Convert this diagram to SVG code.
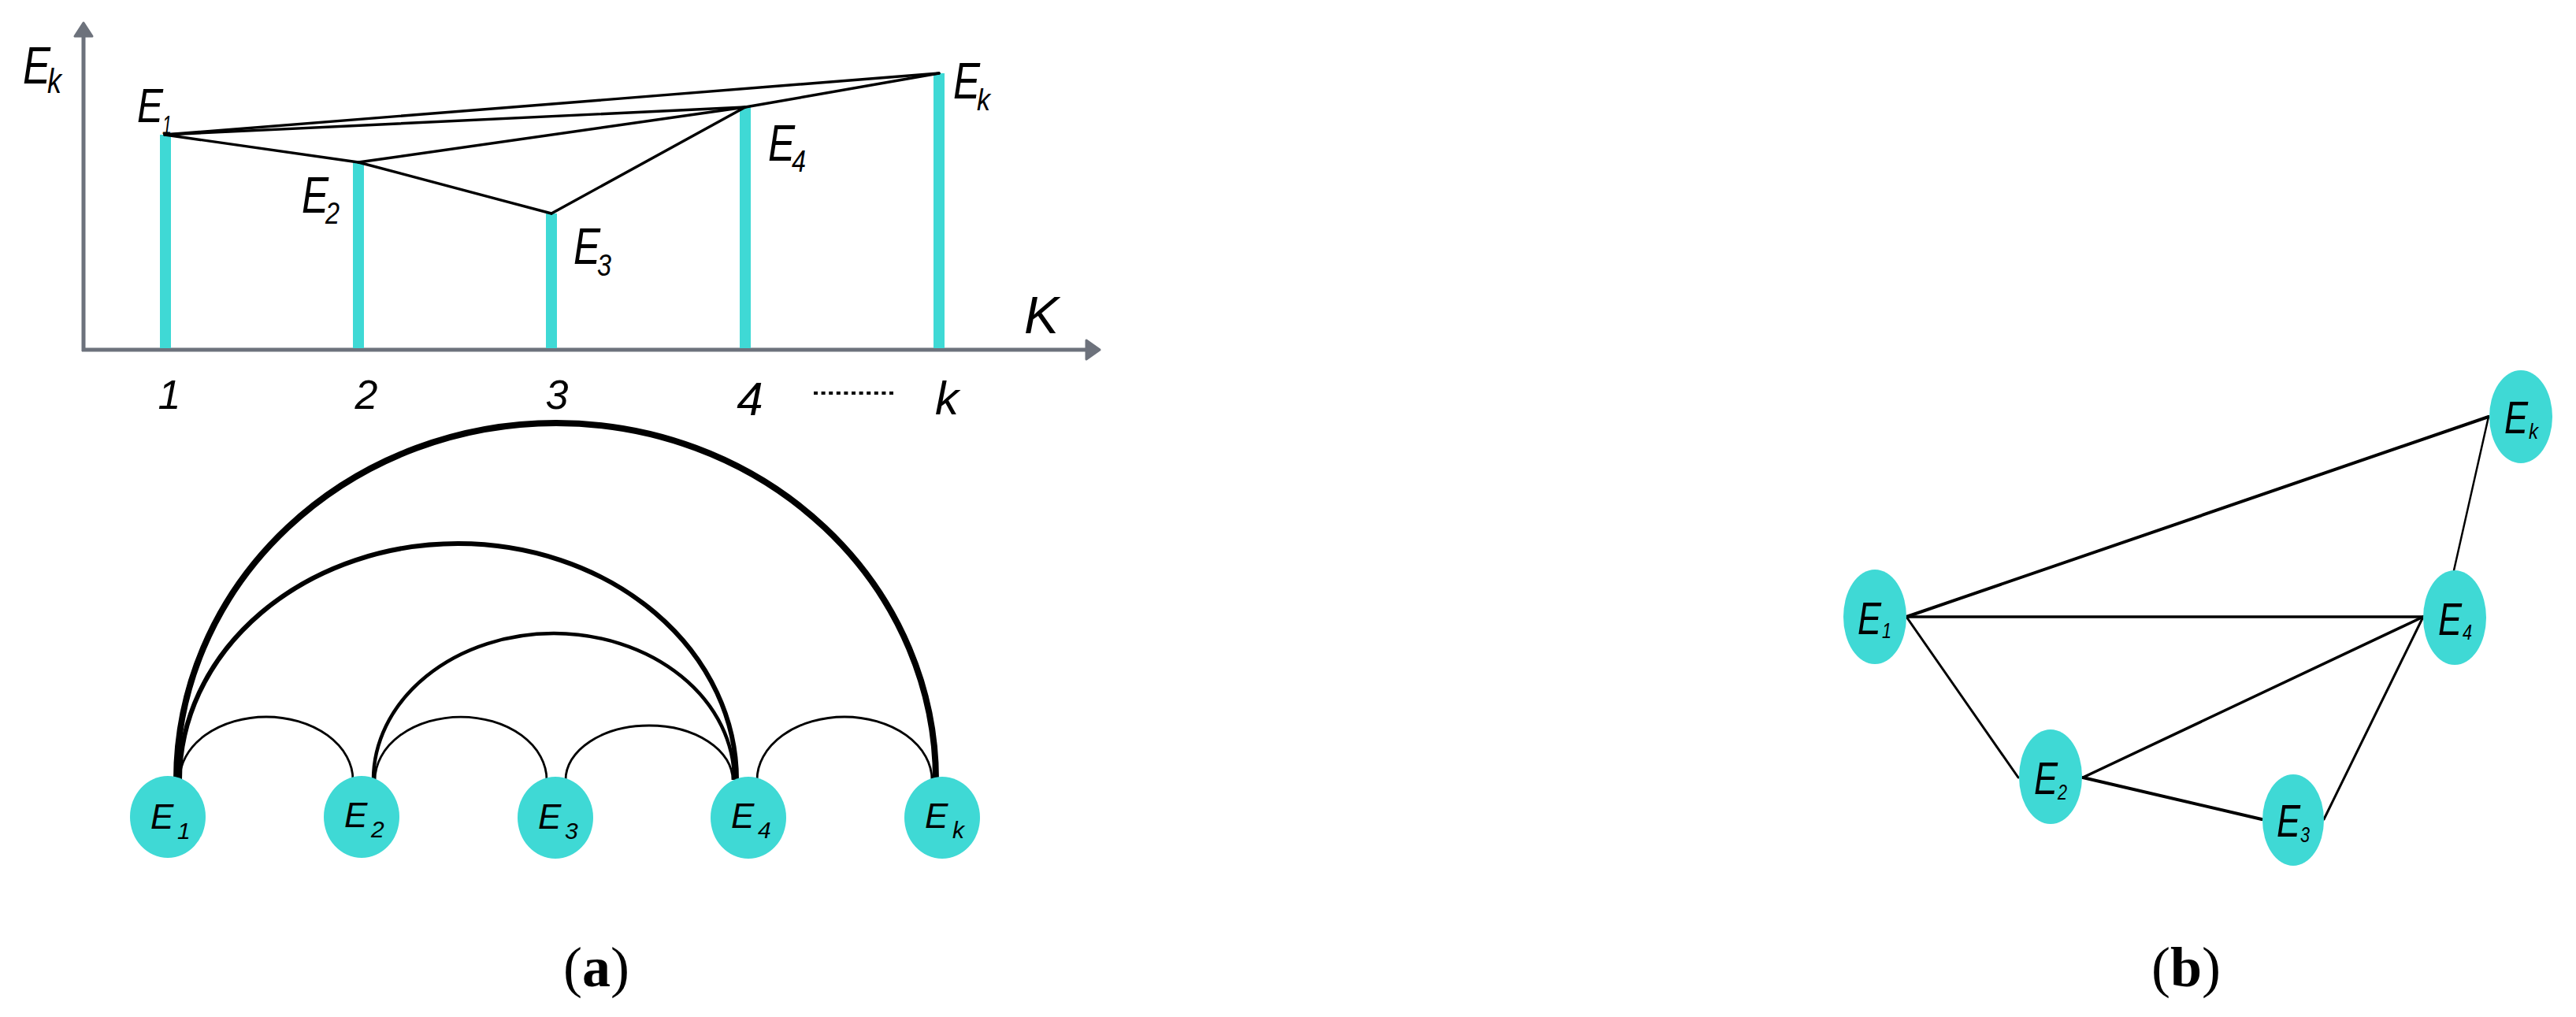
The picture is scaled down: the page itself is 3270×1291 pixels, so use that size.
<svg xmlns="http://www.w3.org/2000/svg" width="3270" height="1291" viewBox="0 0 3270 1291">
<style>
.ax{stroke:#6d727c;stroke-width:5;fill:none}
.axh{fill:#6d727c;stroke:#6d727c;stroke-width:3;stroke-linejoin:round}
.bar{stroke:#3fd9d5;stroke-width:14}
.ln{stroke:#000;stroke-width:3.4;fill:none;stroke-linecap:round}
.arc{stroke:#000;fill:none}
.nd{fill:#3fd9d5}
.t{font-family:"Liberation Sans",Arial,sans-serif;font-style:italic;fill:#000}
.cap{font-family:"Liberation Serif","Times New Roman",serif;font-size:72px;fill:#000}
</style>
<rect width="3270" height="1291" fill="#fff"/>

<!-- (a) top chart -->
<g id="chart">
  <line class="ax" x1="106" y1="446" x2="106" y2="44"/>
  <polygon class="axh" points="106,29 95,46 117,46"/>
  <line class="ax" x1="104" y1="444" x2="1382" y2="444"/>
  <polygon class="axh" points="1396,444 1379,432 1379,456"/>
  <text class="t" x="29" y="106" font-size="66" textLength="35" lengthAdjust="spacingAndGlyphs">E</text>
  <text class="t" x="60" y="118" font-size="44" textLength="18" lengthAdjust="spacingAndGlyphs">k</text>
  <text class="t" x="1300" y="423" font-size="66">K</text>
  <g class="t" text-anchor="middle">
    <text x="215" y="519" font-size="52">1</text>
    <text x="465" y="519" font-size="52">2</text>
    <text x="707" y="519" font-size="52">3</text>
    <text x="952" y="527" font-size="60">4</text>
    <text x="1202" y="526" font-size="60">k</text>
  </g>
  <line x1="1033" y1="499" x2="1134" y2="499" stroke="#000" stroke-width="4" stroke-dasharray="5 4.6"/>
</g>
<g id="bars">
  <line class="bar" x1="210" y1="171" x2="210" y2="442"/>
  <line class="bar" x1="455" y1="206" x2="455" y2="442"/>
  <line class="bar" x1="700" y1="271" x2="700" y2="442"/>
  <line class="bar" x1="946" y1="136" x2="946" y2="442"/>
  <line class="bar" x1="1192" y1="93" x2="1192" y2="442"/>
</g>
<g id="chart-connectors">
  <line class="ln" x1="209" y1="171" x2="1192" y2="93"/>
  <line class="ln" x1="209" y1="171" x2="946" y2="136"/>
  <line class="ln" x1="209" y1="171" x2="455" y2="206"/>
  <line class="ln" x1="455" y1="206" x2="946" y2="136"/>
  <line class="ln" x1="455" y1="206" x2="700" y2="271"/>
  <line class="ln" x1="700" y1="271" x2="946" y2="136"/>
  <line class="ln" x1="946" y1="136" x2="1192" y2="93"/>
</g>
<g id="chart-labels" class="t">
  <text x="174" y="155" font-size="62" textLength="33" lengthAdjust="spacingAndGlyphs">E</text><text x="206" y="170" font-size="34" textLength="12" lengthAdjust="spacingAndGlyphs">1</text>
  <text x="383" y="270" font-size="64" textLength="34" lengthAdjust="spacingAndGlyphs">E</text><text x="413" y="284" font-size="38" textLength="18" lengthAdjust="spacingAndGlyphs">2</text>
  <text x="728" y="335" font-size="64" textLength="34" lengthAdjust="spacingAndGlyphs">E</text><text x="758" y="350" font-size="38" textLength="18" lengthAdjust="spacingAndGlyphs">3</text>
  <text x="975" y="204" font-size="64" textLength="34" lengthAdjust="spacingAndGlyphs">E</text><text x="1005" y="218" font-size="38" textLength="18" lengthAdjust="spacingAndGlyphs">4</text>
  <text x="1210" y="125" font-size="64" textLength="34" lengthAdjust="spacingAndGlyphs">E</text><text x="1240" y="140" font-size="38" textLength="17" lengthAdjust="spacingAndGlyphs">k</text>
</g>

<!-- (a) arc diagram -->
<g id="arc-connectors">
  <path class="arc" stroke-width="8" d="M224,990 A482,453 0 0 1 1188,990"/>
  <path class="arc" stroke-width="6" d="M228,990 A353.5,300 0 0 1 935,990"/>
  <path class="arc" stroke-width="4.5" d="M474,990 A229,186 0 0 1 932,990"/>
  <path class="arc" stroke-width="2.8" d="M228,990 A110,80 0 0 1 448,990"/>
  <path class="arc" stroke-width="2.8" d="M476,990 A109,80 0 0 1 694,990"/>
  <path class="arc" stroke-width="2.8" d="M718,990 A106,69 0 0 1 930,990"/>
  <path class="arc" stroke-width="2.8" d="M961,990 A111,80 0 0 1 1183,990"/>
</g>
<g id="a-E1"><ellipse class="nd" cx="213" cy="1037" rx="48" ry="52"/><text class="t" x="191" y="1052" font-size="44">E</text><text class="t" x="225" y="1065" font-size="30">1</text></g>
<g id="a-E2"><ellipse class="nd" cx="459" cy="1037" rx="48" ry="52"/><text class="t" x="437" y="1050" font-size="44">E</text><text class="t" x="471" y="1063" font-size="30">2</text></g>
<g id="a-E3"><ellipse class="nd" cx="705" cy="1038" rx="48" ry="52"/><text class="t" x="683" y="1052" font-size="44">E</text><text class="t" x="717" y="1065" font-size="30">3</text></g>
<g id="a-E4"><ellipse class="nd" cx="950" cy="1038" rx="48" ry="52"/><text class="t" x="928" y="1051" font-size="44">E</text><text class="t" x="962" y="1064" font-size="30">4</text></g>
<g id="a-Ek"><ellipse class="nd" cx="1196" cy="1038" rx="48" ry="52"/><text class="t" x="1174" y="1051" font-size="44">E</text><text class="t" x="1209" y="1064" font-size="30">k</text></g>

<!-- (b) graph -->
<g id="b-connectors" stroke="#000" stroke-linecap="round">
  <line x1="2420" y1="783" x2="3159" y2="529" stroke-width="4"/>
  <line x1="2420" y1="783" x2="3076" y2="783" stroke-width="3.5"/>
  <line x1="2420" y1="783" x2="2562" y2="987" stroke-width="3"/>
  <line x1="2644" y1="987" x2="3076" y2="783" stroke-width="3.5"/>
  <line x1="2644" y1="987" x2="2871" y2="1040" stroke-width="4"/>
  <line x1="2950" y1="1040" x2="3076" y2="783" stroke-width="3"/>
  <line x1="3115" y1="724" x2="3159" y2="529" stroke-width="2.5"/>
</g>
<g id="b-E1"><ellipse class="nd" cx="2380" cy="783" rx="40" ry="60"/><text class="t" x="2358" y="805" font-size="58" textLength="30" lengthAdjust="spacingAndGlyphs">E</text><text class="t" x="2389" y="810" font-size="28" textLength="12" lengthAdjust="spacingAndGlyphs">1</text></g>
<g id="b-E2"><ellipse class="nd" cx="2603" cy="986" rx="40" ry="60"/><text class="t" x="2582" y="1008" font-size="58" textLength="30" lengthAdjust="spacingAndGlyphs">E</text><text class="t" x="2612" y="1015" font-size="28" textLength="12" lengthAdjust="spacingAndGlyphs">2</text></g>
<g id="b-E3"><ellipse class="nd" cx="2911" cy="1041" rx="39" ry="58"/><text class="t" x="2890" y="1062" font-size="58" textLength="30" lengthAdjust="spacingAndGlyphs">E</text><text class="t" x="2920" y="1069" font-size="28" textLength="12" lengthAdjust="spacingAndGlyphs">3</text></g>
<g id="b-E4"><ellipse class="nd" cx="3116" cy="784" rx="40" ry="60"/><text class="t" x="3095" y="806" font-size="58" textLength="30" lengthAdjust="spacingAndGlyphs">E</text><text class="t" x="3126" y="812" font-size="28" textLength="12" lengthAdjust="spacingAndGlyphs">4</text></g>
<g id="b-Ek"><ellipse class="nd" cx="3200" cy="529" rx="40" ry="59"/><text class="t" x="3179" y="550" font-size="58" textLength="30" lengthAdjust="spacingAndGlyphs">E</text><text class="t" x="3210" y="557" font-size="28" textLength="12" lengthAdjust="spacingAndGlyphs">k</text></g>

<!-- captions -->
<text class="cap" x="757" y="1252" text-anchor="middle">(<tspan font-weight="bold">a</tspan>)</text>
<text class="cap" x="2775" y="1252" text-anchor="middle">(<tspan font-weight="bold">b</tspan>)</text>
</svg>
